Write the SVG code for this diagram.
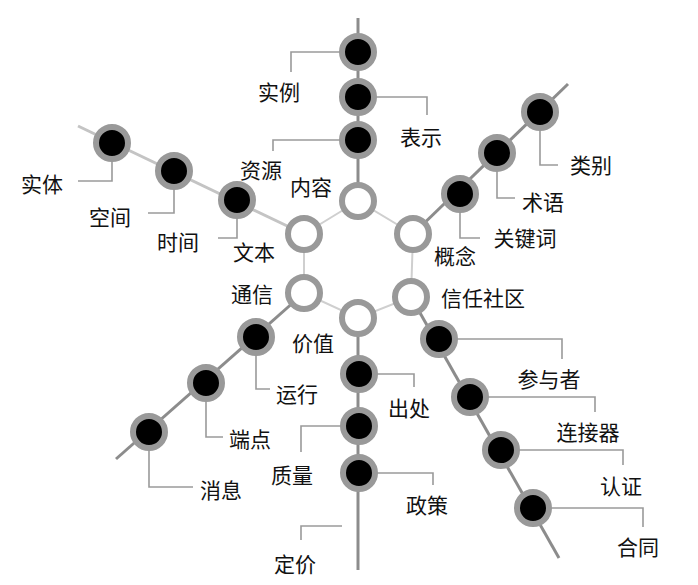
<svg xmlns="http://www.w3.org/2000/svg" width="698" height="585" viewBox="0 0 698 585">
<style>
.spoke{stroke:#8c8c8c;stroke-width:3;fill:none}
.spoke-l{stroke:#c4c4c4;stroke-width:3;fill:none}
.hex{stroke:#cfcfcf;stroke-width:2;fill:none}
.call{stroke:#9a9a9a;stroke-width:1.6;fill:none}
.ring{fill:#fff;stroke:#999;stroke-width:6}
.dot{fill:#000;stroke:#999;stroke-width:6}
text{font-family:"Noto Sans CJK SC","Noto Sans CJK JP",sans-serif;font-size:21px;fill:#111;text-anchor:middle}
</style>
<rect width="698" height="585" fill="#fff"/>
<g id="connectors">
<path class="hex" d="M358,201 L304,234 L304,293 L358,318 L411,297 L413,234 Z"/>
<line class="spoke" x1="358" y1="18" x2="358" y2="201"/>
<line class="spoke-l" x1="78" y1="126" x2="304" y2="234"/>
<line class="spoke" x1="568" y1="84" x2="413" y2="234"/>
<line class="spoke" x1="304" y1="293" x2="116" y2="459"/>
<line class="spoke" x1="358" y1="318" x2="358" y2="570"/>
<line class="spoke" x1="411" y1="297" x2="559" y2="558"/>
<polyline class="call" points="358,52 291,52 291,72"/>
<polyline class="call" points="358,97 427,97 427,115"/>
<polyline class="call" points="358,140 273,140 273,151"/>
<polyline class="call" points="112,143 112,181 78,181"/>
<polyline class="call" points="174,171 174,213 148,213"/>
<polyline class="call" points="237,200 237,238 218,238"/>
<polyline class="call" points="460,194 460,238 480,238"/>
<polyline class="call" points="497,153 497,198 515,198"/>
<polyline class="call" points="540,112 540,165 558,165"/>
<polyline class="call" points="256,337 256,389 270,389"/>
<polyline class="call" points="206,383 206,437 223,437"/>
<polyline class="call" points="149,432 149,487 193,487"/>
<polyline class="call" points="359,374 414,374 414,387"/>
<polyline class="call" points="359,426 301,426 301,452"/>
<polyline class="call" points="359,473 433,473 433,485"/>
<polyline class="call" points="342,526 301,526 301,540"/>
<polyline class="call" points="439,339 562,339 562,359"/>
<polyline class="call" points="470,397 595,397 595,412"/>
<polyline class="call" points="501,450 623,450 623,465"/>
<polyline class="call" points="533,508 643,508 643,527"/>
</g>
<g id="hexagon">
<g id="n-neirong"><circle class="ring" cx="358" cy="201" r="16"/><text x="311" y="195">内容</text></g>
<g id="n-wenben"><circle class="ring" cx="304" cy="234" r="16"/><text x="254" y="260">文本</text></g>
<g id="n-gainian"><circle class="ring" cx="413" cy="234" r="16"/><text x="455" y="264">概念</text></g>
<g id="n-tongxin"><circle class="ring" cx="304" cy="293" r="16"/><text x="252" y="302">通信</text></g>
<g id="n-xinren"><circle class="ring" cx="411" cy="297" r="16"/><text x="483" y="306">信任社区</text></g>
<g id="n-jiazhi"><circle class="ring" cx="358" cy="318" r="16"/><text x="313" y="351">价值</text></g>
</g>
<g id="top">
<g id="n-shili"><circle class="dot" cx="358" cy="52" r="16"/><text x="279" y="100">实例</text></g>
<g id="n-biaoshi"><circle class="dot" cx="358" cy="97" r="16"/><text x="421" y="145">表示</text></g>
<g id="n-ziyuan"><circle class="dot" cx="358" cy="140" r="16"/><text x="261" y="178">资源</text></g>
</g>
<g id="upper-left">
<g id="n-shiti"><circle class="dot" cx="112" cy="143" r="16"/><text x="42" y="192">实体</text></g>
<g id="n-kongjian"><circle class="dot" cx="174" cy="171" r="16"/><text x="110" y="225">空间</text></g>
<g id="n-shijian"><circle class="dot" cx="237" cy="200" r="16"/><text x="178" y="250">时间</text></g>
</g>
<g id="upper-right">
<g id="n-guanjianci"><circle class="dot" cx="460" cy="194" r="16"/><text x="525" y="246">关键词</text></g>
<g id="n-shuyu"><circle class="dot" cx="497" cy="153" r="16"/><text x="543" y="210">术语</text></g>
<g id="n-leibie"><circle class="dot" cx="540" cy="112" r="16"/><text x="591" y="173">类别</text></g>
</g>
<g id="lower-left">
<g id="n-yunxing"><circle class="dot" cx="256" cy="337" r="16"/><text x="297" y="402">运行</text></g>
<g id="n-duandian"><circle class="dot" cx="206" cy="383" r="16"/><text x="250" y="447">端点</text></g>
<g id="n-xiaoxi"><circle class="dot" cx="149" cy="432" r="16"/><text x="221" y="498">消息</text></g>
</g>
<g id="bottom">
<g id="n-chuchu"><circle class="dot" cx="359" cy="374" r="16"/><text x="409" y="416">出处</text></g>
<g id="n-zhiliang"><circle class="dot" cx="359" cy="426" r="16"/><text x="292" y="483">质量</text></g>
<g id="n-zhengce"><circle class="dot" cx="359" cy="473" r="16"/><text x="427" y="513">政策</text></g>
<g id="n-dingjia"><text x="295" y="572">定价</text></g>
</g>
<g id="lower-right">
<g id="n-canyuzhe"><circle class="dot" cx="439" cy="339" r="16"/><text x="549" y="387">参与者</text></g>
<g id="n-lianjieqi"><circle class="dot" cx="470" cy="397" r="16"/><text x="588" y="440">连接器</text></g>
<g id="n-renzheng"><circle class="dot" cx="501" cy="450" r="16"/><text x="621" y="494">认证</text></g>
<g id="n-hetong"><circle class="dot" cx="533" cy="508" r="16"/><text x="638" y="555">合同</text></g>
</g>
</svg>
